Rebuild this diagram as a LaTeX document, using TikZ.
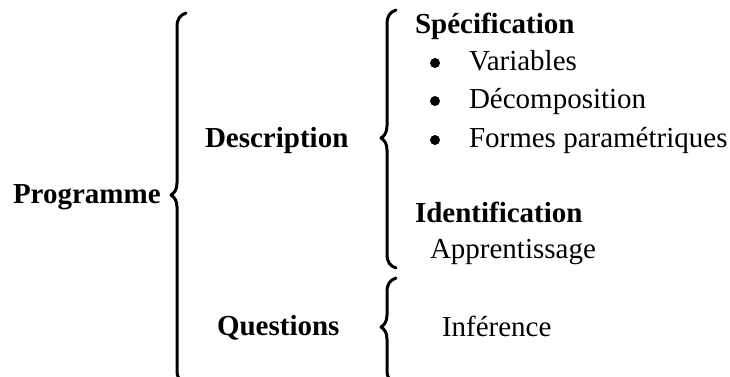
\documentclass[tikz,border=0pt]{standalone}
\usepackage{fontspec}
\setmainfont{Liberation Serif}
\newcommand{\drawcurlybrace}[4]{%
  % #1 x of stem, #2 top y, #3 tip y, #4 bottom y
  \draw[bracestroke] (#1+9,#2) .. controls (#1+3,#2+2) and (#1,#2+6) .. (#1,#2+14)
    -- (#1,#3-12) .. controls (#1,#3-5) and (#1-3,#3-2) .. (#1-6,#3)
    .. controls (#1-3,#3+2) and (#1,#3+5) .. (#1,#3+12)
    -- (#1,#4-14) .. controls (#1,#4-6) and (#1+3,#4-2) .. (#1+9,#4);}
\begin{document}
\begin{tikzpicture}[x=1pt,y=-1pt,
  every node/.style={inner sep=0pt,outer sep=0pt,anchor=base west},
  txt/.style={font=\fontsize{29}{33}\selectfont},
  btxt/.style={font=\fontsize{29}{33}\selectfont\bfseries},
  bulletdot/.style={circle,fill=black,minimum size=10pt,anchor=center},
  bracestroke/.style={line width=3pt,line cap=round,line join=round}]
\useasboundingbox (0,0) rectangle (730,376);
\clip (0,0) rectangle (730,376);
% labels
\node[btxt] (prog) at (13,203) {Programme};
\node[btxt] (desc) at (205,147) {Description};
\node[btxt] (ques) at (217,335) {Questions};
\node[btxt] (spec) at (415,33) {Spécification};
\node[txt] (var) at (469,70) {Variables};
\node[txt] (dec) at (469,108) {Décomposition};
\node[txt] (form) at (469,147) {Formes paramétriques};
\node[bulletdot] (b1) at (435,63) {};
\node[bulletdot] (b2) at (435,101) {};
\node[bulletdot] (b3) at (435,140) {};
\node[btxt] (ident) at (415,222) {Identification};
\node[txt] (appr) at (430,258) {Apprentissage};
\node[txt] (infe) at (442,336) {Inférence};
% braces
\drawcurlybrace{177}{13}{195}{384}
\drawcurlybrace{387}{10}{138}{268}
\drawcurlybrace{387}{278}{327}{384}
\end{tikzpicture}
\end{document}
